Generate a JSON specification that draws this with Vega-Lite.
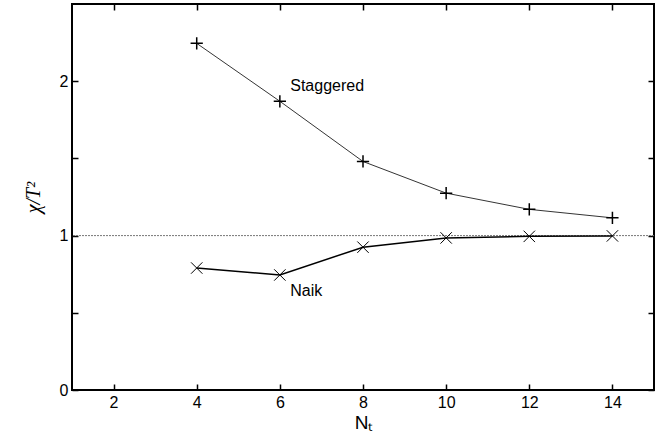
{
  "$schema": "https://vega.github.io/schema/vega-lite/v6.json",
  "autosize": "none",
  "width": 582,
  "height": 386,
  "padding": {"left": 72, "top": 4, "right": 18, "bottom": 51},
  "config": {
    "view": {"stroke": "black", "strokeWidth": 2},
    "axis": {"grid": false, "domain": false, "tickColor": "black", "tickWidth": 1.5, "tickSize": -6, "labelFont": "Liberation Sans", "labelFontSize": 16, "labelColor": "black", "titleFont": "Liberation Sans", "titleFontSize": 17, "titleFontWeight": "normal", "titleColor": "black"}
  },
  "datasets": {
    "pts": [
      {"Nt": 4, "v": 2.245, "s": "Staggered"},
      {"Nt": 6, "v": 1.87, "s": "Staggered"},
      {"Nt": 8, "v": 1.48, "s": "Staggered"},
      {"Nt": 10, "v": 1.275, "s": "Staggered"},
      {"Nt": 12, "v": 1.17, "s": "Staggered"},
      {"Nt": 14, "v": 1.115, "s": "Staggered"},
      {"Nt": 4, "v": 0.79, "s": "Naik"},
      {"Nt": 6, "v": 0.745, "s": "Naik"},
      {"Nt": 8, "v": 0.925, "s": "Naik"},
      {"Nt": 10, "v": 0.985, "s": "Naik"},
      {"Nt": 12, "v": 0.995, "s": "Naik"},
      {"Nt": 14, "v": 0.998, "s": "Naik"}
    ],
    "labels": [
      {"Nt": 6.25, "v": 1.97, "t": "Staggered"},
      {"Nt": 6.25, "v": 0.64, "t": "Naik"}
    ]
  },
  "layer": [
    {
      "data": {"values": [{"y": 1}]},
      "mark": {"type": "rule", "color": "#777", "strokeWidth": 1, "strokeDash": [2, 1]},
      "encoding": {"y": {"field": "y", "type": "quantitative", "scale": {"domain": [0, 2.5], "nice": false}, "axis": {"values": [0, 0.5, 1, 1.5, 2], "labelExpr": "datum.value % 1 == 0 ? format(datum.value, 'd') : ''", "title": "χ/T²", "titleFont": "Liberation Serif", "titleFontStyle": "italic", "titleFontSize": 20, "labelPadding": 10, "titlePadding": 16}}}
    },
    {
      "data": {"name": "pts"},
      "transform": [{"filter": "datum.s == 'Staggered'"}],
      "mark": {"type": "line", "color": "black", "strokeWidth": 0.8},
      "encoding": {
        "x": {"field": "Nt", "type": "quantitative", "scale": {"domain": [1, 15], "nice": false}, "axis": {"values": [2, 4, 6, 8, 10, 12, 14], "title": "Nₜ", "titleFontSize": 19, "labelPadding": 10, "titlePadding": 3}},
        "y": {"field": "v", "type": "quantitative", "scale": {"domain": [0, 2.5], "nice": false}, "axis": null}
      }
    },
    {
      "data": {"name": "pts"},
      "transform": [{"filter": "datum.s == 'Naik'"}],
      "mark": {"type": "line", "color": "black", "strokeWidth": 1.5},
      "encoding": {
        "x": {"field": "Nt", "type": "quantitative", "scale": {"domain": [1, 15], "nice": false}, "axis": null},
        "y": {"field": "v", "type": "quantitative", "scale": {"domain": [0, 2.5], "nice": false}, "axis": null}
      }
    },
    {
      "data": {"name": "pts"},
      "transform": [{"filter": "datum.s == 'Staggered'"}],
      "mark": {"type": "point", "shape": "M-1,0H1M0,-1V1", "filled": false, "color": "black", "strokeWidth": 1.5, "size": 150, "opacity": 1},
      "encoding": {
        "x": {"field": "Nt", "type": "quantitative", "scale": {"domain": [1, 15], "nice": false}, "axis": null},
        "y": {"field": "v", "type": "quantitative", "scale": {"domain": [0, 2.5], "nice": false}, "axis": null}
      }
    },
    {
      "data": {"name": "pts"},
      "transform": [{"filter": "datum.s == 'Naik'"}],
      "mark": {"type": "point", "shape": "M-1,-1L1,1M-1,1L1,-1", "filled": false, "color": "black", "strokeWidth": 1, "size": 130, "opacity": 1},
      "encoding": {
        "x": {"field": "Nt", "type": "quantitative", "scale": {"domain": [1, 15], "nice": false}, "axis": null},
        "y": {"field": "v", "type": "quantitative", "scale": {"domain": [0, 2.5], "nice": false}, "axis": null}
      }
    },
    {
      "data": {"name": "labels"},
      "mark": {"type": "text", "align": "left", "baseline": "middle", "font": "Liberation Sans", "fontSize": 16, "color": "black"},
      "encoding": {
        "x": {"field": "Nt", "type": "quantitative", "scale": {"domain": [1, 15], "nice": false}, "axis": null},
        "y": {"field": "v", "type": "quantitative", "scale": {"domain": [0, 2.5], "nice": false}, "axis": null},
        "text": {"field": "t"}
      }
    },
    {
      "data": {"values": [{"x": 2, "y": 1}]},
      "mark": {"type": "rule", "opacity": 0},
      "encoding": {
        "x": {"field": "x", "type": "quantitative", "scale": {"domain": [1, 15], "nice": false}, "axis": {"orient": "top", "values": [2, 4, 6, 8, 10, 12, 14], "labels": false, "title": null}},
        "y": {"field": "y", "type": "quantitative", "scale": {"domain": [0, 2.5], "nice": false}, "axis": {"orient": "right", "values": [0, 0.5, 1, 1.5, 2], "labels": false, "title": null}}
      }
    }
  ],
  "resolve": {"axis": {"x": "independent", "y": "independent"}}
}
